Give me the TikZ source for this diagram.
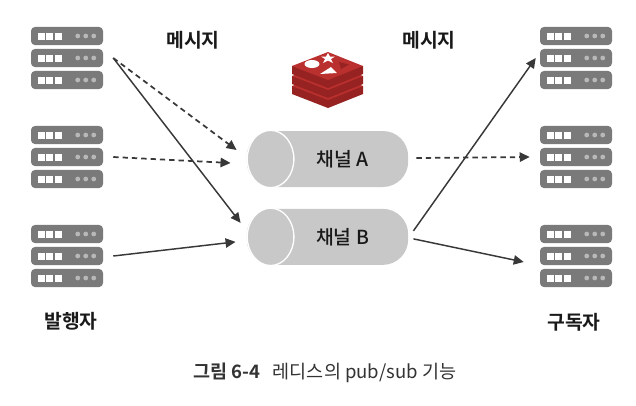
\documentclass[tikz,border=0pt]{standalone}
\usepackage{fontspec}
\setmainfont{Noto Sans CJK KR}[BoldFont={Noto Sans CJK KR Bold}]
\newfontfamily\medfont{Noto Sans CJK KR Medium}
\usetikzlibrary{arrows.meta,calc,positioning,shapes.geometric}
\definecolor{cbar}{RGB}{122,122,122}
\definecolor{cdot}{RGB}{184,184,184}
\definecolor{cchan}{RGB}{200,200,200}
\definecolor{cline}{RGB}{56,56,56}
\definecolor{credtop}{RGB}{186,48,46}
\definecolor{credside}{RGB}{150,34,34}
\tikzset{
  srvbar/.style={rectangle,rounded corners=3pt,fill=cbar,draw=none,
    minimum width=54pt,minimum height=13.6pt,inner sep=0pt},
  chan/.style={rectangle,rounded corners=19pt,fill=cchan,draw=none,
    minimum width=121pt,minimum height=42pt,inner sep=0pt},
  chancap/.style={ellipse,fill=cchan,draw=white,line width=1pt,
    minimum width=35pt,minimum height=43pt,inner sep=0pt},
  chanlab/.style={font=\fontsize{14.5}{16}\selectfont\medfont,text=black!90},
  arr/.style={-{Triangle[length=7.5pt,width=7pt]},line width=1.1pt,cline},
  dasharr/.style={arr,line width=1.3pt,dash pattern=on 4pt off 3pt},
  lab/.style={font=\fontsize{14.5}{16}\selectfont\bfseries,text=black!90}
}
% one server: three bars, each with three squares and three dots
\newcommand{\srvstack}[3]{
  \node[srvbar] (#1a) at (#2,#3) {};
  \node[srvbar, below=2.5pt of #1a] (#1b) {};
  \node[srvbar, below=2.5pt of #1b] (#1c) {};
  \foreach \b in {a,b,c} {
    \foreach \k in {7,15.5,24}
      \fill[white] ([shift={(\k,-3.5)}]#1\b.west) rectangle ++(7,7);
    \foreach \k in {47,55,63}
      \fill[cdot] ([shift={(\k,0)}]#1\b.west) circle (2.4);
  }
}
% one slab of the stacked logo
\newcommand{\logoslab}[1]{
  \fill[credside] (292,#1) -- (292,#1+8) -- (328,#1+22) -- (363,#1+8) -- (363,#1) -- cycle;
  \fill[credtop] (292,#1) -- (328,#1-14) -- (363,#1) -- (328,#1+14) -- cycle;
}
\begin{document}
\begin{tikzpicture}[x=0.75pt,y=-0.75pt]
  \useasboundingbox (0,0) rectangle (636,405);
  \srvstack{pa}{67}{36}
  \srvstack{pb}{67}{135}
  \srvstack{pc}{67}{234}
  \srvstack{sa}{576}{36}
  \srvstack{sb}{576}{135}
  \srvstack{sc}{576}{234}

  \node[chan] (chanA) at (327.5,159) {};
  \node[chan, below=16pt of chanA] (chanB) {};
  \node[chancap, anchor=west] (capA) at (chanA.west) {};
  \node[chancap, anchor=west] (capB) at (chanB.west) {};
  \node[chanlab] (labA) at ([shift={(15,0)}]chanA.center) {채널 A};
  \node[chanlab] (labB) at ([shift={(15,0)}]chanB.center) {채널 B};

  \logoslab{86}
  \logoslab{76}
  \logoslab{66}
  \fill[white] (312,64) ellipse (7.5 and 4);
  \fill[white] (328,53) -- (330,56.5) -- (335,56.5) -- (331,59) -- (333,63) -- (328,60.5) -- (323,63) -- (325,59) -- (321,56.5) -- (326,56.5) -- cycle;
  \fill[white] (320,74) -- (337,73) -- (331,67) -- cycle;
  \fill[credside] (339,62) -- (349,64.5) -- (341,69) -- cycle;

  \node[lab] (msgl) at (193,40) {메시지};
  \node[lab] (msgr) at (429,40) {메시지};
  \node[lab] (pub) at (71,321) {발행자};
  \node[lab] (sub) at (574,322) {구독자};
  \node[font=\fontsize{13.9}{16}\selectfont,text=black!80] (cap) at (325,373) {\textbf{그림 6-4}\hspace{6pt} 레디스의 pub/sub 기능};

  \draw[dasharr] ([shift={(10,0)}]pab.east) -- ([shift={(-10,-9)}]chanA.west);
  \draw[dasharr] ([shift={(10,0)}]pbb.east) -- ([shift={(-16,4)}]chanA.west);
  \draw[arr] ([shift={(10,0)}]pab.east) -- ([shift={(-6,-14)}]chanB.west);
  \draw[arr] ([shift={(10,0)}]pcb.east) -- ([shift={(-11,5)}]chanB.west);
  \draw[dasharr] ([shift={(8,-1)}]chanA.east) -- ([shift={(-10,0)}]sbb.west);
  \draw[arr] ([shift={(5,-6)}]chanB.east) -- ([shift={(-4,0)}]sab.west);
  \draw[arr] ([shift={(5,2)}]chanB.east) -- ([shift={(-16,6)}]scb.west);
\end{tikzpicture}
\end{document}
